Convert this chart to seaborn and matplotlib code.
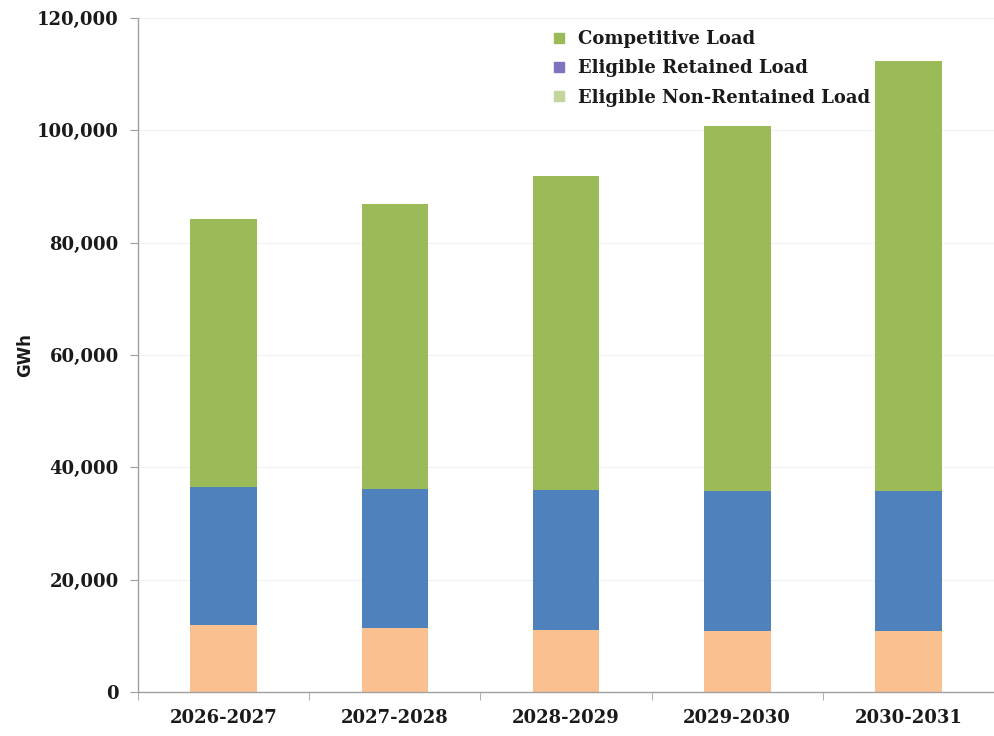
import matplotlib
matplotlib.use("Agg")
import matplotlib.pyplot as plt
import matplotlib.ticker as mticker
from matplotlib.lines import Line2D
import seaborn as sns
import numpy as np
import pandas as pd

years = ["2026-2027", "2027-2028", "2028-2029", "2029-2030", "2030-2031"]
non_retained = [11900, 11400, 11000, 10900, 10900]
retained = [24600, 24700, 25000, 24900, 24900]
competitive = [47700, 50800, 55900, 65000, 76500]

legend_labels = ["Competitive Load", "Eligible Retained Load", "Eligible Non-Rentained Load"]
legend_colors = ["#9BBB59", "#7F72C0", "#C3D69B"]

df = pd.DataFrame({"year": years, "non": non_retained, "ret": retained, "comp": competitive})
df["lvl1"] = df["non"]
df["lvl2"] = df["non"] + df["ret"]
df["lvl3"] = df["lvl2"] + df["comp"]

sns.set_style("white")
fig = plt.figure(figsize=(9.94, 7.36), dpi=100)
ax = fig.add_axes([0.139, 0.06, 0.861, 0.9155])

# cumulative totals drawn back to front so they look stacked
bar_kw = dict(width=0.39, saturation=1, linewidth=0, ax=ax)
sns.barplot(data=df, x="year", y="lvl3", color="#9BBB59", **bar_kw)
sns.barplot(data=df, x="year", y="lvl2", color="#4F81BD", **bar_kw)
sns.barplot(data=df, x="year", y="lvl1", color="#FAC090", **bar_kw)

ax.set_ylim(0, 120000)
ax.set_xlim(-0.5, 4.5)
ax.yaxis.set_major_locator(mticker.MultipleLocator(20000))
ax.yaxis.set_major_formatter(mticker.FuncFormatter(lambda v, p: f"{int(v):,}"))
ax.grid(axis="y", color="#F0F0F5", linewidth=0.8)
ax.set_axisbelow(True)

for s in ["top", "right"]:
    ax.spines[s].set_visible(False)
for s in ["left", "bottom"]:
    ax.spines[s].set_color("#A0A0A0")
    ax.spines[s].set_linewidth(1.0)

ax.tick_params(axis="y", which="major", length=6, color="#A0A0A0", direction="out", left=True, pad=8)
ax.tick_params(axis="x", which="major", length=0, pad=12)
ax.set_xticks(np.arange(-0.5, 4.6, 1.0), minor=True)
ax.tick_params(axis="x", which="minor", length=6, color="#A0A0A0", direction="out", bottom=True)

for lbl in ax.get_yticklabels():
    lbl.set_fontfamily("DejaVu Serif")
    lbl.set_fontweight("bold")
    lbl.set_fontsize(13)
    lbl.set_color("#1A1A1A")
for lbl in ax.get_xticklabels():
    lbl.set_fontfamily("DejaVu Serif")
    lbl.set_fontweight("bold")
    lbl.set_fontsize(13)
    lbl.set_color("#1A1A1A")

ax.set_xlabel("")
ax.set_ylabel("GWh", fontsize=12, fontweight="bold", family="DejaVu Sans", labelpad=2, color="#1A1A1A")

handles = [Line2D([0], [0], marker="s", linestyle="none", markersize=7,
                  markerfacecolor=c, markeredgecolor=c) for c in legend_colors]
leg = ax.legend(handles, legend_labels, loc="upper left", bbox_to_anchor=(0.452, 1.006),
                frameon=False, handletextpad=0.05, labelspacing=0.62,
                prop={"family": "DejaVu Serif", "weight": "bold", "size": 13})
for t in leg.get_texts():
    t.set_color("#1A1A1A")

fig.savefig("out.png", dpi=100)
